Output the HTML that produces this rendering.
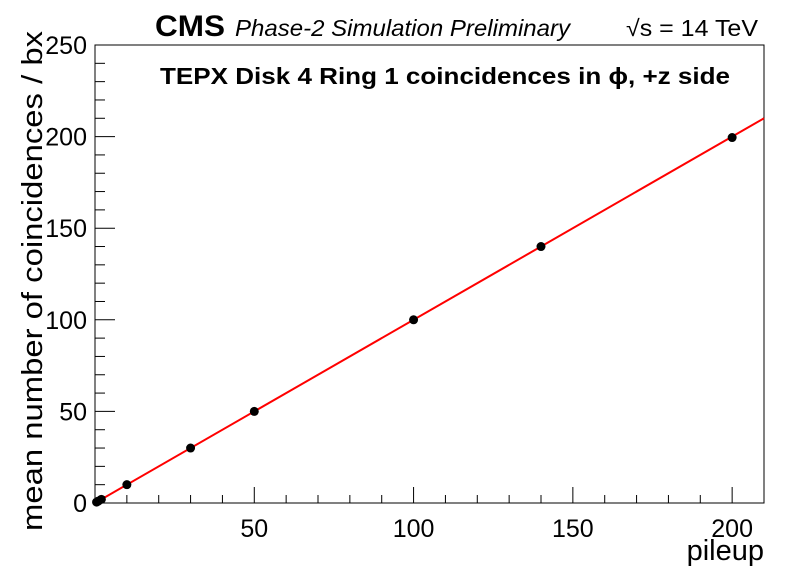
<!DOCTYPE html>
<html><head><meta charset="utf-8"><style>
html,body{margin:0;padding:0;background:#fff;}
svg{display:block;font-family:"Liberation Sans",sans-serif;}
</style></head><body>
<svg id="chart" width="796" height="572" viewBox="0 0 796 572">
<rect width="796" height="572" fill="#fff"/>
<text x="155" y="36" font-size="30" font-weight="bold" textLength="70" lengthAdjust="spacingAndGlyphs">CMS</text>
<text x="235" y="36" font-size="23" font-style="italic" textLength="335" lengthAdjust="spacingAndGlyphs">Phase-2 Simulation Preliminary</text>
<text x="626" y="36" font-size="23" textLength="132" lengthAdjust="spacingAndGlyphs">√s = 14 TeV</text>
<text x="160" y="84" font-size="23" font-weight="bold" textLength="570" lengthAdjust="spacingAndGlyphs">TEPX Disk 4 Ring 1 coincidences in  ϕ, +z side</text>
<g id="axes"></g>
<g id="marks"></g>
<text x="764" y="560" font-size="29" text-anchor="end">pileup</text>
<text transform="translate(42,531) rotate(-90)" font-size="29" textLength="500" lengthAdjust="spacingAndGlyphs">mean number of coincidences / bx</text>
</svg>
<script>
const pileup = [0.5, 1, 2, 10, 30, 50, 100, 140, 200];
const coincidences = [0.5, 1, 2, 10, 30, 50, 100, 140, 199.5];
const xTicks = [50, 100, 150, 200];
const yTicks = [0, 50, 100, 150, 200, 250];
const fitSlope = [1.0];
const fitIntercept = [0.0];
const X0=95, X1=764, Y0=503, Y1=45, XMAX=210, YMAX=250;
const sx = v => X0 + v/XMAX*(X1-X0);
const sy = v => Y0 - v/YMAX*(Y0-Y1);
const NS="http://www.w3.org/2000/svg";
const axes=document.getElementById('axes'), marks=document.getElementById('marks');
function mk(tag, attrs, parent){const e=document.createElementNS(NS,tag);for(const k in attrs)e.setAttribute(k,attrs[k]);parent.appendChild(e);return e;}
const frame=mk('rect',{x:X0,y:Y1,width:X1-X0,height:Y0-Y1,fill:'none',stroke:'#000','stroke-width':1},axes);


for(let v=10; v<=XMAX; v+=10){
  const major = v%50===0;
  const t=mk('line',{x1:sx(v),x2:sx(v),y1:Y0,y2:Y0-(major?16:8),stroke:'#000'},axes);
  
  
}
xTicks.forEach(v=>{
  const t=mk('text',{x:sx(v),y:537,'font-size':25,'text-anchor':'middle'},axes);t.textContent=v;
  
  
});
for(let v=10; v<YMAX; v+=10){
  const major = v%50===0;
  const t=mk('line',{x1:X0,x2:X0+(major?20:10),y1:sy(v),y2:sy(v),stroke:'#000'},axes);
  
  
}
yTicks.forEach(v=>{
  const t=mk('text',{x:X0-8,y:sy(v)+9,'font-size':25,'text-anchor':'end'},axes);t.textContent=v;
  
  
});
const fit=mk('line',{x1:sx(0.5),y1:sy(fitIntercept[0]+fitSlope[0]*0.5),x2:sx(XMAX),y2:sy(fitIntercept[0]+fitSlope[0]*XMAX),stroke:'#f00','stroke-width':2},marks);


pileup.forEach((p,i)=>{
  const c=mk('circle',{cx:sx(p),cy:sy(coincidences[i]),r:4.5,fill:'#000'},marks);
  
  
});
</script>
</body></html>
